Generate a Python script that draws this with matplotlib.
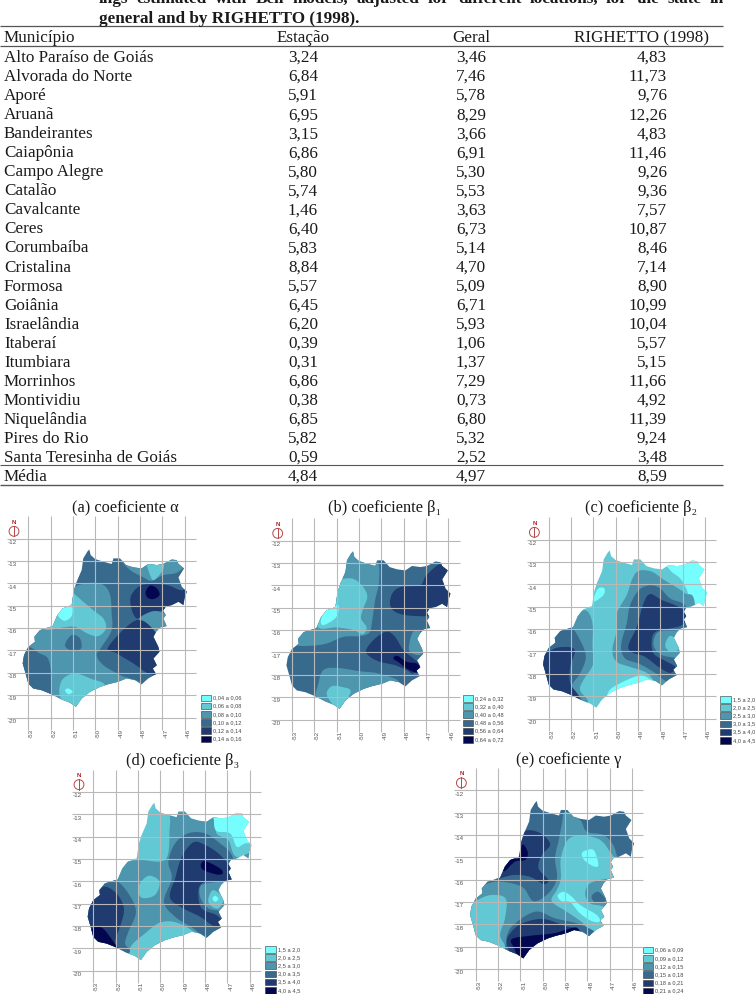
import matplotlib
matplotlib.use("Agg")
import matplotlib.pyplot as plt
from matplotlib.patches import Polygon, Rectangle, Circle

plt.rcParams['font.family'] = ['Liberation Serif', 'DejaVu Serif']

W, H = 755, 994

# ---------- table ----------
municipios = ["Alto Paraíso de Goiás", "Alvorada do Norte", "Aporé", "Aruanã", "Bandeirantes", "Caiapônia",
              "Campo Alegre", "Catalão", "Cavalcante", "Ceres", "Corumbaíba", "Cristalina", "Formosa", "Goiânia",
              "Israelândia", "Itaberaí", "Itumbiara", "Morrinhos", "Montividiu", "Niquelândia", "Pires do Rio",
              "Santa Teresinha de Goiás", "Média"]
estacao = ["3,24", "6,84", "5,91", "6,95", "3,15", "6,86", "5,80", "5,74", "1,46", "6,40", "5,83", "8,84", "5,57",
           "6,45", "6,20", "0,39", "0,31", "6,86", "0,38", "6,85", "5,82", "0,59", "4,84"]
geral = ["3,46", "7,46", "5,78", "8,29", "3,66", "6,91", "5,30", "5,53", "3,63", "6,73", "5,14", "4,70", "5,09",
         "6,71", "5,93", "1,06", "1,37", "7,29", "0,73", "6,80", "5,32", "2,52", "4,97"]
righetto = ["4,83", "11,73", "9,76", "12,26", "4,83", "11,46", "9,26", "9,36", "7,57", "10,87", "8,46", "7,14", "8,90",
            "10,99", "10,04", "5,57", "5,15", "11,66", "4,92", "11,39", "9,24", "3,48", "8,59"]
headers = ["Município", "Estação", "Geral", "RIGHETTO (1998)"]
caption_1 = "ings estimated with Bell models, adjusted for different locations, for the state in"
caption_2 = "general and by RIGHETTO (1998)."

# ---------- state outline (lon, lat) ----------
outline = [(-50.27,-12.48),(-50.21,-12.73),(-50.01,-12.91),(-49.64,-13.03),(-49.27,-13.13),(-49.19,-12.88),
           (-48.90,-12.88),(-48.63,-13.18),(-48.30,-13.28),(-47.93,-13.33),(-47.63,-13.13),(-47.25,-13.18),
           (-46.96,-13.13),(-46.58,-12.93),(-46.36,-12.96),(-46.28,-13.13),(-46.03,-13.33),(-46.28,-13.73),
           (-46.13,-14.15),(-45.91,-14.37),(-46.01,-14.67),(-46.06,-14.97),(-46.28,-14.82),(-46.58,-14.97),
           (-46.85,-15.04),(-46.96,-15.22),(-46.85,-15.42),(-46.96,-15.57),(-46.81,-15.91),(-47.10,-15.97),
           (-47.28,-16.16),(-47.40,-16.39),(-47.18,-16.84),(-47.13,-17.06),(-47.40,-17.36),(-47.25,-17.66),
           (-47.43,-17.81),(-47.28,-18.06),(-47.63,-18.25),(-47.93,-18.52),(-48.22,-18.33),(-48.60,-18.25),
           (-48.97,-18.40),(-49.42,-18.51),(-49.79,-18.63),(-50.24,-18.85),(-50.61,-19.15),(-50.87,-19.52),
           (-51.13,-19.34),(-51.51,-19.19),(-51.96,-18.96),(-52.40,-18.78),(-52.78,-18.70),(-53.0,-18.48),
           (-53.10,-18.10),(-53.25,-17.58),(-53.19,-17.21),(-53.0,-16.84),(-52.70,-16.61),(-52.73,-16.39),
           (-52.48,-16.09),(-51.91,-15.91),(-51.70,-15.42),(-51.46,-15.12),(-51.06,-14.97),(-50.96,-14.30),
           (-50.84,-13.93),(-50.61,-13.40),(-50.54,-12.88),(-50.36,-12.58)]

level_colors = ["#76FDFE", "#62C8D4", "#4E95AE", "#386A8E", "#1F3B70", "#03074F"]

# ---------- class zones: (class index, polygon in lon/lat), painted in order ----------
zones_a = [
 (2,[(-51.06,-14.15),(-50.24,-13.97),(-49.64,-14.07),(-49.34,-14.52),(-49.27,-15.34),(-49.27,-16.09),(-49.72,-16.84),(-49.94,-17.21),(-49.64,-17.66),(-48.90,-18.10),(-47.93,-18.63),(-49.8,-20),(-53.5,-20),(-53.5,-15.8),(-52,-14.3)]),
 (1,[(-50.96,-14.45),(-50.54,-14.82),(-50.01,-15.27),(-49.64,-15.57),(-49.52,-16.01),(-49.87,-16.36),(-50.36,-16.24),(-50.91,-15.94),(-51.43,-15.97),(-52.33,-16.01),(-52.03,-14.9),(-51.28,-14.15)]),
 (0,[(-51.70,-15.37),(-51.43,-15.07),(-51.06,-14.97),(-51.06,-15.46),(-51.40,-15.67)]),
 (3,[(-51.36,-16.76),(-51.06,-16.31),(-50.69,-16.46),(-50.64,-16.91),(-51.06,-17.01)]),
 (3,[(-53,-16.84),(-52.55,-17.10),(-52.06,-17.51),(-52.0,-19.15),(-52.78,-19.37),(-53.67,-18.78),(-53.67,-16.98)]),
 (1,[(-51.61,-18.70),(-51.43,-18.25),(-50.91,-18.03),(-50.24,-18.25),(-49.57,-18.63),(-50.69,-19.67),(-51.28,-19.52),(-51.55,-19.15)]),
 (0,[(-51.36,-18.78),(-51.21,-18.70),(-51.01,-18.85),(-51.21,-18.96)]),
 (2,[(-48.82,-12.96),(-48.45,-13.40),(-47.85,-13.73),(-47.48,-13.88),(-46.96,-13.63),(-46.28,-13.48),(-45.9,-12.8),(-48.6,-12.66)]),
 (1,[(-47.70,-13.13),(-47.55,-13.63),(-47.37,-13.85),(-46.96,-13.37),(-47.03,-13.03),(-47.63,-12.88)]),
 (4,[(-48.42,-14.60),(-48.07,-14.15),(-47.63,-14.03),(-46.81,-14.07),(-46.21,-14.30),(-45.76,-14.30),(-45.76,-15.19),(-46.51,-15.04),(-46.96,-15.19),(-47.25,-15.27),(-47.85,-15.46),(-48.15,-15.57),(-48.37,-15.19)]),
 (2,[(-48.07,-15.61),(-47.70,-15.34),(-47.25,-15.24),(-46.66,-15.49),(-46.66,-16.01),(-47.33,-16.21),(-47.85,-15.87)]),
 (4,[(-49.42,-16.84),(-48.15,-15.64),(-47.25,-16.24),(-46.96,-16.84),(-47.1,-17.28),(-47.1,-18.03),(-47.63,-18.03),(-48.30,-17.58),(-49.04,-17.13)]),
 (5,[(-47.75,-14.37),(-47.55,-14.10),(-47.25,-14.22),(-47.13,-14.52),(-47.40,-14.70),(-47.67,-14.63)]),
]
zones_b = [
 (2,[(-49.28,-12.79),(-49.10,-13.76),(-49.28,-14.66),(-49.43,-15.70),(-49.54,-16.12),(-49.96,-16.27),(-50.70,-16.30),(-51.45,-16.60),(-52.19,-16.70),(-52.94,-16.60),(-53.5,-15.7),(-51.7,-13.9),(-50.7,-12.3)]),
 (1,[(-50.93,-13.79),(-50.33,-13.69),(-49.88,-13.99),(-49.63,-14.48),(-49.81,-15.03),(-49.91,-15.48),(-49.66,-15.88),(-49.84,-16.19),(-50.25,-16.0),(-51.0,-15.88),(-51.82,-15.88),(-51.9,-14.96),(-51.07,-14.2)]),
 (0,[(-51.70,-15.52),(-51.45,-15.07),(-50.93,-14.88),(-51.03,-15.43),(-51.6,-15.78)]),
 (2,[(-51.82,-18.39),(-51.60,-17.79),(-51.0,-17.69),(-49.96,-17.84),(-49.13,-17.94),(-48.24,-18.27),(-48.76,-18.54),(-49.96,-19.28),(-51,-19.88),(-51.9,-19.13)]),
 (1,[(-51.45,-18.84),(-51.22,-18.51),(-50.78,-18.54),(-50.37,-18.76),(-50.93,-19.58),(-51.22,-19.28)]),
 (2,[(-47.75,-16.6),(-47.58,-16.07),(-47.27,-16.07),(-47.12,-16.76),(-47.27,-17.12),(-47.72,-16.97)]),
 (4,[(-48.61,-14.66),(-48.46,-14.28),(-48.09,-14.06),(-47.27,-13.99),(-47.04,-13.61),(-46.67,-13.24),(-46.30,-12.99),(-45.5,-12.72),(-45.5,-14.96),(-46.67,-14.96),(-46.90,-15.19),(-46.90,-15.37),(-47.85,-15.34),(-48.37,-15.19),(-48.58,-14.96)]),
 (4,[(-49.69,-16.90),(-49.28,-16.37),(-48.76,-16.07),(-48.39,-16.30),(-48.01,-16.90),(-47.57,-17.27),(-47.27,-17.57),(-47.57,-17.94),(-47.87,-17.79),(-48.39,-17.57),(-49.06,-17.42),(-49.51,-17.19)]),
 (5,[(-48.46,-17.27),(-48.28,-17.15),(-47.87,-17.42),(-47.42,-17.49),(-47.27,-17.72),(-47.42,-17.91),(-47.87,-17.72),(-48.16,-17.49)]),
]
zones_c = [
 (0,[(-47.87,-12.69),(-47.57,-13.36),(-47.12,-13.73),(-46.82,-14.25),(-46.52,-15.0),(-45.55,-15.15),(-45.55,-12.6)]),
 (0,[(-51.0,-14.63),(-50.78,-14.18),(-50.51,-14.18),(-50.55,-14.48),(-50.97,-14.78)]),
 (0,[(-50.33,-18.81),(-49.88,-18.46),(-48.99,-18.09),(-48.51,-18.21),(-48.24,-18.58),(-49.58,-19.18),(-50.33,-19.33)]),
 (2,[(-49.25,-13.73),(-48.96,-13.39),(-48.39,-13.43),(-47.87,-13.78),(-47.34,-14.10),(-46.90,-14.40),(-46.45,-14.93),(-46.45,-18.73),(-47.94,-18.58),(-48.61,-17.96),(-49.36,-17.69),(-49.96,-17.46),(-50.15,-16.94),(-49.96,-16.04),(-49.96,-15.30),(-49.51,-14.48)]),
 (3,[(-49.36,-14.93),(-48.96,-14.25),(-48.46,-14.04),(-48.01,-14.18),(-47.57,-14.63),(-46.90,-14.93),(-46.52,-15.75),(-47.19,-16.04),(-48.09,-16.12),(-48.31,-16.72),(-47.94,-17.16),(-47.12,-17.39),(-46.90,-18.13),(-47.64,-18.36),(-48.24,-17.96),(-48.91,-17.57),(-49.58,-17.31),(-49.76,-16.72),(-49.51,-15.75)]),
 (4,[(-49.43,-16.72),(-49.06,-15.90),(-48.76,-14.85),(-48.46,-14.43),(-47.94,-14.70),(-47.19,-15.0),(-46.75,-15.37),(-47.04,-15.82),(-47.57,-15.97),(-48.21,-16.12),(-48.39,-16.49),(-48.31,-17.09),(-47.79,-17.42),(-47.34,-17.69),(-47.57,-17.96),(-48.09,-17.69),(-48.69,-17.24),(-49.28,-17.04)]),
 (1,[(-47.79,-16.72),(-47.57,-16.30),(-47.19,-16.57),(-47.19,-16.91),(-47.57,-17.01)]),
 (2,[(-51.75,-15.30),(-51.30,-15.18),(-51.04,-15.75),(-51.04,-16.79),(-51.0,-17.54),(-51.45,-18.28),(-51.60,-18.73),(-51.30,-19.33),(-53.0,-19.48),(-53.76,-18.73),(-53.76,-16.94),(-52.64,-16.04),(-52.04,-15.67)]),
 (3,[(-52.64,-16.04),(-52.04,-15.90),(-51.60,-16.49),(-51.34,-17.24),(-51.60,-17.99),(-51.97,-18.58),(-51.60,-19.25),(-53.61,-19.33),(-53.76,-16.79),(-53.01,-16.34)]),
 (4,[(-53.16,-17.09),(-52.57,-16.82),(-51.85,-16.91),(-52.04,-17.69),(-52.04,-18.43),(-51.70,-19.18),(-53.61,-19.33),(-53.69,-17.24)]),
]
zones_d = [
 (2,[(-51.66,-15.15),(-50.91,-15.04),(-49.75,-15.0),(-49.57,-13.48),(-49.39,-12.73),(-47.55,-12.73),(-47.51,-13.81),(-46.96,-14.15),(-46.61,-14.90),(-45.54,-14.97),(-45.54,-18.85),(-48.52,-19.60),(-53,-19.60),(-53.75,-17.36),(-52.55,-15.87),(-52.0,-15.42)]),
 (0,[(-47.60,-13.30),(-47.48,-13.75),(-46.88,-13.85),(-46.58,-14.45),(-46.21,-14.30),(-45.54,-14.15),(-45.54,-12.58),(-47.48,-12.73)]),
 (1,[(-50.99,-16.24),(-50.54,-15.75),(-50.04,-16.01),(-50.24,-16.61),(-50.84,-16.73)]),
 (1,[(-51.28,-18.85),(-50.69,-18.33),(-50.01,-17.84),(-49.27,-17.84),(-48.45,-18.28),(-48.0,-18.70),(-50.01,-19.6),(-50.91,-19.9),(-51.36,-19.3)]),
 (3,[(-49.64,-15.12),(-49.34,-14.30),(-48.75,-13.85),(-48.0,-13.85),(-47.33,-14.30),(-46.81,-14.82),(-46.58,-15.87),(-47.33,-16.01),(-48.15,-16.16),(-48.22,-16.69),(-47.85,-17.21),(-47.10,-17.43),(-47.10,-18.25),(-47.93,-18.55),(-48.52,-18.10),(-49.34,-17.58),(-49.84,-16.91),(-49.49,-15.87)]),
 (4,[(-49.57,-16.73),(-49.34,-15.87),(-49.04,-14.90),(-48.52,-14.25),(-48.0,-14.37),(-47.40,-14.75),(-46.88,-15.34),(-46.58,-15.94),(-47.55,-15.99),(-48.15,-16.09),(-48.30,-16.54),(-48.15,-17.21),(-47.48,-17.51),(-47.25,-17.81),(-47.55,-18.03),(-48.22,-17.58),(-48.97,-17.21)]),
 (5,[(-48.19,-15.27),(-48.0,-15.09),(-47.33,-15.42),(-47.21,-15.64),(-47.48,-15.69),(-48.07,-15.49)]),
 (1,[(-47.85,-16.76),(-47.63,-16.39),(-47.18,-16.76),(-47.40,-17.21),(-47.78,-17.06)]),
 (0,[(-47.67,-16.76),(-47.54,-16.64),(-47.40,-16.79),(-47.55,-16.91)]),
 (3,[(-52.63,-16.16),(-52.03,-15.94),(-51.43,-16.54),(-51.09,-17.36),(-51.43,-18.25),(-51.58,-18.78),(-51.43,-19.22),(-53,-19.6),(-53.75,-17.36),(-53.15,-16.69)]),
 (4,[(-52.55,-16.24),(-51.96,-16.54),(-51.63,-17.21),(-51.78,-17.96),(-52.03,-18.70),(-51.88,-19.22),(-53,-19.45),(-53.75,-18.25),(-53.75,-17.36),(-53,-16.84)]),
 (5,[(-53.07,-18.13),(-52.63,-18.06),(-52.10,-18.70),(-51.88,-19.15),(-52.55,-19.22),(-53.45,-18.85)]),
]
zones_e = [
 (2,[(-52.06,-16.09),(-50.94,-16.31),(-50.42,-16.96),(-49.75,-16.61),(-49.37,-15.94),(-49.45,-15.04),(-49.30,-14.30),(-49.15,-13.55),(-49.0,-12.96),(-48.33,-13.33),(-48.03,-13.85),(-47.28,-14.0),(-46.84,-14.45),(-46.54,-15.12),(-45.64,-15.19),(-45.64,-19.22),(-50.12,-19.82),(-53.85,-19.22),(-53.85,-16.99),(-52.96,-16.39)]),
 (1,[(-49.19,-15.04),(-48.85,-14.18),(-48.18,-14.03),(-47.43,-14.22),(-46.99,-14.75),(-46.76,-15.12),(-46.61,-15.87),(-47.21,-15.97),(-47.88,-16.16),(-48.10,-16.61),(-47.88,-17.06),(-47.21,-17.28),(-47.13,-18.18),(-47.66,-18.55),(-48.18,-17.96),(-48.93,-17.43),(-49.60,-16.96),(-49.37,-16.46),(-49.19,-15.94)]),
 (0,[(-48.25,-14.82),(-48.03,-14.67),(-47.70,-14.70),(-47.51,-15.34),(-47.73,-15.40),(-48.15,-15.12)]),
 (0,[(-49.34,-16.72),(-49.07,-16.54),(-48.70,-16.76),(-48.33,-17.13),(-47.58,-17.58),(-47.46,-17.88),(-47.81,-17.85),(-48.33,-17.51),(-48.78,-17.0),(-49.15,-16.97)]),
 (3,[(-47.81,-16.72),(-47.51,-16.54),(-47.18,-16.91),(-47.43,-17.01),(-47.70,-16.99)]),
 (4,[(-52.13,-15.97),(-51.76,-15.57),(-51.54,-15.04),(-51.09,-14.90),(-50.87,-13.88),(-50.19,-13.88),(-49.67,-14.40),(-50.04,-14.90),(-50.19,-15.49),(-49.75,-16.01),(-49.97,-16.19),(-50.57,-15.87),(-51.31,-15.79)]),
 (5,[(-51.09,-15.04),(-50.91,-14.42),(-50.67,-14.78),(-50.79,-15.12),(-51.24,-15.19),(-51.69,-15.61),(-51.79,-15.46),(-51.54,-15.04)]),
 (1,[(-53.10,-16.99),(-52.36,-16.69),(-51.66,-16.84),(-51.69,-17.73),(-51.91,-18.48),(-51.73,-19.15),(-53.10,-19.52),(-53.85,-18.33),(-53.85,-17.28)]),
 (3,[(-51.66,-18.85),(-51.39,-18.10),(-50.34,-17.43),(-49.45,-17.73),(-48.25,-18.03),(-47.58,-18.55),(-48.93,-19.22),(-50.87,-20.12),(-51.61,-19.52)]),
 (4,[(-51.61,-18.78),(-51.46,-18.40),(-50.94,-17.96),(-49.97,-17.76),(-48.93,-18.10),(-48.45,-18.21),(-49.67,-18.93),(-50.57,-19.52),(-51.39,-19.37)]),
 (5,[(-51.39,-18.66),(-50.57,-18.51),(-49.52,-18.40),(-48.51,-18.15),(-48.40,-18.63),(-49.67,-18.78),(-50.42,-19.0),(-50.87,-19.82),(-51.28,-19.07)]),
]

legend_a = ["0,04 a 0,06", "0,06 a 0,08", "0,08 a 0,10", "0,10 a 0,12", "0,12 a 0,14", "0,14 a 0,16"]
legend_b = ["0,24 a 0,32", "0,32 a 0,40", "0,40 a 0,48", "0,48 a 0,56", "0,56 a 0,64", "0,64 a 0,72"]
legend_c = ["1,5 a 2,0", "2,0 a 2,5", "2,5 a 3,0", "3,0 a 3,5", "3,5 a 4,0", "4,0 a 4,5"]
legend_e = ["0,06 a 0,09", "0,09 a 0,12", "0,12 a 0,15", "0,15 a 0,18", "0,18 a 0,21", "0,21 a 0,24"]

lon_ticks = [-53, -52, -51, -50, -49, -48, -47, -46]
lat_ticks = [-12, -13, -14, -15, -16, -17, -18, -19, -20]

# panel: title, title centre/baseline px, lon -53 px, lat -12 px, zones, base class, legend, legend px
panels = [
 ("(a) coeficiente α", 125.5, 512, 28.3, 538.7, zones_a, 3, legend_a, 200.7, 694.5),
 ("(b) coeficiente β₁", 385, 512, 292.0, 540.7, zones_b, 3, legend_b, 462.7, 695.0),
 ("(c) coeficiente β₂", 641, 512, 548.7, 539.7, zones_c, 1, legend_c, 720.0, 696.0),
 ("(d) coeficiente β₃", 183, 765, 93.3, 792.0, zones_d, 1, legend_c, 265.0, 946.0),
 ("(e) coeficiente γ", 569, 764, 475.7, 790.3, zones_e, 3, legend_e, 642.7, 946.7),
]
PX_PER_DEG = 22.35


def spline(points, sub=8):
    """Closed Catmull-Rom curve through the read contour points."""
    n = len(points)
    out = []
    for i in range(n):
        p0, p1, p2, p3 = points[i - 1], points[i], points[(i + 1) % n], points[(i + 2) % n]
        for k in range(sub):
            t = k / sub
            out.append(tuple(
                0.5 * (2 * p1[c] + (p2[c] - p0[c]) * t + (2 * p0[c] - 5 * p1[c] + 4 * p2[c] - p3[c]) * t * t
                       + (3 * p1[c] - p0[c] - 3 * p2[c] + p3[c]) * t ** 3)
                for c in (0, 1)))
    return out


fig = plt.figure(figsize=(W / 100, H / 100), dpi=100, facecolor="white")
page = fig.add_axes([0, 0, 1, 1])
page.set_xlim(0, W)
page.set_ylim(H, 0)
page.axis("off")

FS = 12.3
TXT = "#1a1a1a"

# caption: first line justified between x=99 and x=724
renderer = fig.canvas.get_renderer()
words = caption_1.split(" ")
artists = [page.text(0, 3, w, fontsize=FS, fontweight="bold", va="baseline", color=TXT) for w in words]
widths = [a.get_window_extent(renderer).width for a in artists]
gap = (724 - 99 - sum(widths)) / (len(words) - 1)
x = 99
for a, w in zip(artists, widths):
    a.set_x(x)
    x += w + gap
page.text(99, 22.7, caption_2, fontsize=FS, fontweight="bold", va="baseline", color=TXT)

for y, lw in [(26, 0.9), (45.7, 0.9), (465, 0.8), (485, 1.0)]:
    page.plot([0, 723], [y, y], color="#555555", lw=lw, solid_capstyle="butt")

# table
page.text(4, 42.5, headers[0], fontsize=FS, va="baseline", color=TXT)
page.text(303, 42.5, headers[1], fontsize=FS, va="baseline", ha="center", color=TXT)
page.text(471, 42.5, headers[2], fontsize=FS, va="baseline", ha="center", color=TXT)
page.text(709, 42.5, headers[3], fontsize=FS, va="baseline", ha="right", color=TXT)
for i, name in enumerate(municipios):
    y = 62 + i * 19.05
    page.text(4, y, name, fontsize=FS, va="baseline", color=TXT)
    page.text(303, y, estacao[i], fontsize=FS, va="baseline", ha="center", color=TXT)
    page.text(471, y, geral[i], fontsize=FS, va="baseline", ha="center", color=TXT)
    page.text(667, y, righetto[i], fontsize=FS, va="baseline", ha="right", color=TXT)

# maps
for title, tx, ty, x53, y12, zones, base, legend, lx, ly in panels:
    page.text(tx, ty, title, fontsize=11.8, ha="center", va="baseline", color=TXT)

    lon0, lon1, lat1, lat0 = -54.4, -45.4, -10.9, -21.0
    left = x53 + (lon0 + 53) * PX_PER_DEG
    right = x53 + (lon1 + 53) * PX_PER_DEG
    top = y12 + (-12 - lat1) * PX_PER_DEG
    bottom = y12 + (-12 - lat0) * PX_PER_DEG
    ax = fig.add_axes([left / W, 1 - bottom / H, (right - left) / W, (bottom - top) / H])
    ax.set_xlim(lon0, lon1)
    ax.set_ylim(lat0, lat1)
    ax.axis("off")
    ax.patch.set_alpha(0)

    state = Polygon(outline, closed=True, facecolor=level_colors[base], edgecolor="none", zorder=1)
    ax.add_patch(state)
    for level, pts in zones:
        p = Polygon(spline(pts), closed=True, facecolor=level_colors[level], edgecolor="none", zorder=2)
        ax.add_patch(p)
        p.set_clip_path(state)

    ax.vlines(lon_ticks, -20.55, -11.0, color="#b8b8b8", lw=0.8, zorder=3)
    ax.hlines(lat_ticks, -53.95, -45.5, color="#b8b8b8", lw=0.8, zorder=3)
    for lat in lat_ticks:
        ax.text(-53.72, lat - 0.17, str(lat), fontsize=4.5, color="#555555", ha="center", va="center",
                family="Liberation Sans", zorder=4)
    for lon in lon_ticks:
        ax.text(lon + 0.15, -20.72, str(lon), fontsize=4.5, color="#555555", rotation=90, ha="center",
                va="center", family="Liberation Sans", zorder=4)

    # north arrow
    ax.add_patch(Circle((-53.64, -11.67), 0.22, facecolor="none", edgecolor="#b5474a", lw=0.7, zorder=4))
    ax.plot([-53.64, -53.64], [-11.9, -11.42], color="#b5474a", lw=0.7, zorder=4)
    ax.text(-53.64, -11.27, "N", fontsize=4.5, color="#b01c20", fontweight="bold", ha="center", va="center",
            family="Liberation Sans", zorder=4)

    # legend
    for i, label in enumerate(legend):
        y = ly + i * 8.2
        page.add_patch(Rectangle((lx, y), 10.5, 6.6, facecolor=level_colors[i], edgecolor="#333333", lw=0.4))
        page.text(lx + 12.6, y + 3.4, label, fontsize=4.05, color="#444444", va="center", family="Liberation Sans")

fig.savefig("out.png", dpi=100)
